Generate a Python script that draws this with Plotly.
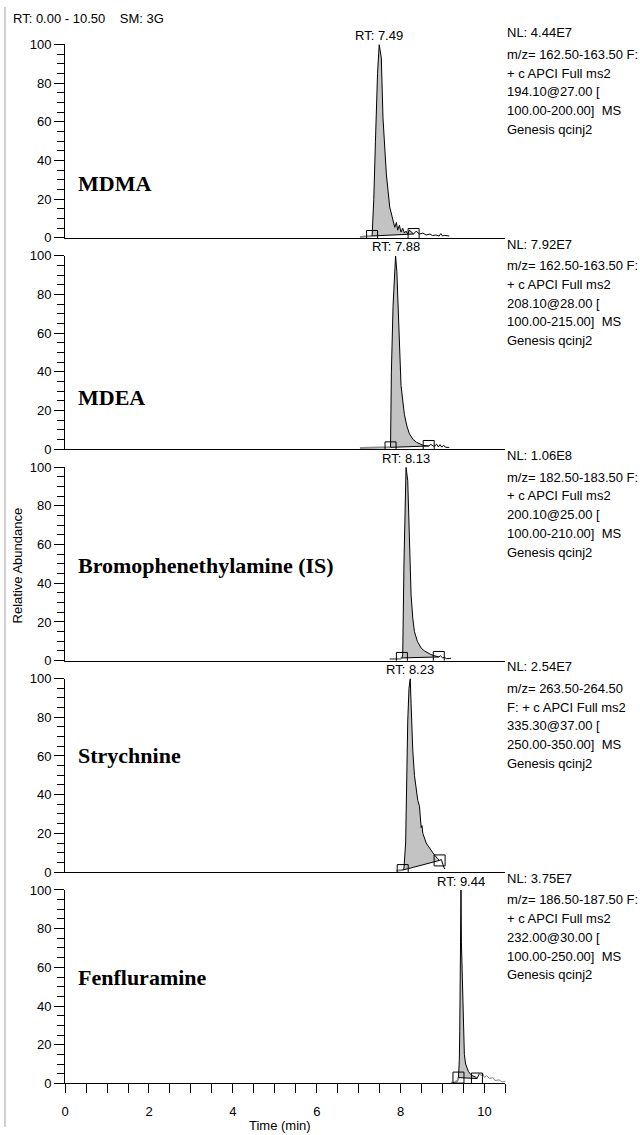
import plotly.graph_objects as go

# ---------------- data ----------------
compounds = ["MDMA", "MDEA", "Bromophenethylamine (IS)", "Strychnine", "Fenfluramine"]
label_levels = [28, 27, 49, 60, 55]
rt_values = [7.49, 7.88, 8.13, 8.23, 9.44]

mdma_t = [7.03, 7.10, 7.20, 7.28, 7.32, 7.36, 7.40, 7.45, 7.49, 7.54, 7.58, 7.66, 7.74, 7.82, 7.86, 7.90,
          7.93, 7.97, 8.01, 8.05, 8.09, 8.13, 8.17, 8.21, 8.25, 8.31, 8.37, 8.45, 8.53, 8.61, 8.70, 8.76,
          8.84, 8.92, 8.96, 9.00, 9.04, 9.10, 9.16]
mdma_y = [0.5, 0.6, 0.5, 0.7, 1.0, 20, 50, 85, 100, 93, 62, 33, 16, 9, 5.5, 8,
          4, 6.5, 3, 5, 2.5, 3.5, 2, 4, 3, 2, 3.5, 2, 2.5, 1.5, 2, 1.2,
          1.5, 1, 2.2, 1, 1.3, 1, 1]
mdma_bounds_t = [7.32, 8.31]
mdma_bounds_y = [1.0, 2.0]

mdea_t = [7.03, 7.20, 7.40, 7.60, 7.70, 7.76, 7.78, 7.82, 7.86, 7.88, 7.91, 7.96, 8.01, 8.09, 8.15, 8.21,
          8.30, 8.38, 8.46, 8.54, 8.62, 8.67, 8.72, 8.80, 8.86, 8.90, 8.94, 8.98, 9.02, 9.08, 9.16]
mdea_y = [0.6, 0.7, 0.6, 0.7, 0.8, 1.0, 40, 74, 98, 100, 92, 57, 33, 18, 12, 8,
          5, 3.6, 2.6, 2, 1.8, 1.7, 2.5, 1.5, 2.6, 1.2, 2.4, 1.1, 2, 1, 1]
mdea_bounds_t = [7.76, 8.67]
mdea_bounds_y = [1.0, 1.7]

br_t = [7.74, 7.85, 7.95, 8.00, 8.03, 8.05, 8.08, 8.11, 8.13, 8.17, 8.21, 8.25, 8.29, 8.33, 8.40, 8.49,
        8.57, 8.64, 8.72, 8.80, 8.88, 8.91, 8.95, 9.00, 9.05, 9.10, 9.20]
br_y = [0.8, 0.9, 0.8, 1.0, 1.4, 3, 50, 85, 100, 93, 59, 34, 22, 15, 10, 6.5,
        5, 4, 3.2, 2.6, 2.2, 1.9, 2.5, 1.5, 1.6, 1.0, 1.2]
br_bounds_t = [8.03, 8.91]
br_bounds_y = [1.4, 1.9]

st_t = [7.90, 7.98, 8.05, 8.08, 8.12, 8.14, 8.17, 8.20, 8.23, 8.25, 8.29, 8.33, 8.37, 8.41, 8.45, 8.49,
        8.51, 8.53, 8.61, 8.70, 8.80, 8.88, 8.93, 8.97, 9.00, 9.03, 9.06]
st_y = [0.6, 0.8, 1.0, 2, 15, 45, 78, 95, 100, 87, 63, 50, 44, 37, 34, 23,
        24, 20, 15, 12, 9, 7, 6, 6.5, 4, 2.5, 1.5]
st_bounds_t = [8.05, 8.93]
st_bounds_y = [1.0, 6.0]

fen_t = [9.20, 9.30, 9.36, 9.38, 9.40, 9.41, 9.42, 9.44, 9.45, 9.47, 9.49, 9.50, 9.52, 9.55, 9.58, 9.62,
         9.70, 9.78, 9.82, 9.88, 9.92, 9.96, 10.00, 10.05, 10.12, 10.20, 10.25, 10.35, 10.42, 10.50]
fen_y = [0.3, 0.5, 1.5, 3, 12, 27, 66, 100, 73, 52, 35, 27, 15, 10, 8, 6,
         4, 3.5, 2.5, 5, 4, 5, 3, 4, 2.5, 3, 1.5, 1.8, 0.8, 1]
fen_bounds_t = [9.38, 9.82]
fen_bounds_y = [3.0, 2.5]

info_lines = [
    ["NL: 4.44E7", "m/z= 162.50-163.50 F:", "+ c APCI Full ms2", "194.10@27.00 [", "100.00-200.00]  MS", "Genesis qcinj2"],
    ["NL: 7.92E7", "m/z= 162.50-163.50 F:", "+ c APCI Full ms2", "208.10@28.00 [", "100.00-215.00]  MS", "Genesis qcinj2"],
    ["NL: 1.06E8", "m/z= 182.50-183.50 F:", "+ c APCI Full ms2", "200.10@25.00 [", "100.00-210.00]  MS", "Genesis qcinj2"],
    ["NL: 2.54E7", "m/z= 263.50-264.50", "F: + c APCI Full ms2", "335.30@37.00 [", "250.00-350.00]  MS", "Genesis qcinj2"],
    ["NL: 3.75E7", "m/z= 186.50-187.50 F:", "+ c APCI Full ms2", "232.00@30.00 [", "100.00-250.00]  MS", "Genesis qcinj2"],
]

x_tick_vals = [0, 2, 4, 6, 8, 10]
y_tick_vals = [0, 20, 40, 60, 80, 100]

series = [
    (mdma_t, mdma_y, mdma_bounds_t, mdma_bounds_y),
    (mdea_t, mdea_y, mdea_bounds_t, mdea_bounds_y),
    (br_t, br_y, br_bounds_t, br_bounds_y),
    (st_t, st_y, st_bounds_t, st_bounds_y),
    (fen_t, fen_y, fen_bounds_t, fen_bounds_y),
]

# ---------------- layout geometry ----------------
W, H = 640, 1135
X0, X1 = 61.5, 504.6
TOP0, STEP, PH = 38.0, 214.2, 196.0
FONT = "Liberation Sans, Arial, sans-serif"
SERIF = "Liberation Serif, Times New Roman, serif"
FS = 13


def px(x):
    return x / W


def py(y):
    return 1 - y / H


fig = go.Figure()
layout = dict(
    width=W, height=H, margin=dict(l=0, r=0, t=0, b=0),
    paper_bgcolor="white", plot_bgcolor="white", showlegend=False,
    font=dict(family=FONT, size=FS, color="black"),
)

annotations = []
for i, (t, y, bt, by) in enumerate(series):
    n = i + 1
    xa = "x" if n == 1 else f"x{n}"
    ya = "y" if n == 1 else f"y{n}"
    top = TOP0 + STEP * i
    bot = top + PH

    pts = list(zip(t, y))
    # filled integrated area
    inside = [p for p in pts if bt[0] < p[0] < bt[1]]
    poly_x = [bt[0]] + [p[0] for p in inside] + [bt[1]]
    poly_y = [by[0]] + [p[1] for p in inside] + [by[1]]
    fig.add_trace(go.Scatter(x=poly_x, y=poly_y, xaxis=xa, yaxis=ya, mode="lines",
                             fill="toself", fillcolor="#c3c3c3", line=dict(width=0),
                             hoverinfo="skip"))
    # pre-peak segment (gray)
    pre = [p for p in pts if p[0] <= bt[0]]
    fig.add_trace(go.Scatter(x=[p[0] for p in pre], y=[p[1] for p in pre], xaxis=xa, yaxis=ya,
                             mode="lines", line=dict(color="#8c8c8c", width=2), hoverinfo="skip"))
    # main trace (starts at last pre point so the line is continuous)
    start_idx = max(len(pre) - 1, 0)
    main = [p for p in pts[start_idx:] if n < 5 or p[0] <= bt[1]]
    if n == 5:
        nxt = [p for p in pts if p[0] > bt[1]]
        if nxt:
            main.append(nxt[0])
    fig.add_trace(go.Scatter(x=[p[0] for p in main], y=[p[1] for p in main], xaxis=xa, yaxis=ya,
                             mode="lines", line=dict(color="black", width=1), hoverinfo="skip"))
    if n == 5:
        post = [p for p in pts if p[0] > bt[1]]
        fig.add_trace(go.Scatter(x=[p[0] for p in post], y=[p[1] for p in post], xaxis=xa, yaxis=ya,
                                 mode="lines", line=dict(color="#808080", width=1), hoverinfo="skip"))
    # integration baseline + boxes
    fig.add_trace(go.Scatter(x=bt, y=by, xaxis=xa, yaxis=ya, mode="lines+markers",
                             line=dict(color="black", width=1),
                             marker=dict(symbol="square-open", size=11, color="black",
                                         line=dict(width=1)),
                             hoverinfo="skip"))

    xaxis = dict(domain=[px(X0), px(X1)], range=[0, 10.5], anchor=ya,
                 showline=True, linecolor="black", linewidth=1, showgrid=False, zeroline=False,
                 fixedrange=True)
    if n < 5:
        xaxis.update(showticklabels=False, ticks="", matches="x5")
    else:
        xaxis.update(ticks="outside", ticklen=9, tickwidth=1, tickcolor="black",
                     tickvals=x_tick_vals, ticktext=[str(v) for v in x_tick_vals],
                     tickfont=dict(size=FS), ticklabelstandoff=7,
                     minor=dict(ticks="outside", ticklen=9, tickwidth=1, tickcolor="black",
                                dtick=0.5, tick0=0))
    yaxis = dict(domain=[py(bot), py(top)], range=[0, 100], anchor=xa,
                 showline=True, linecolor="black", linewidth=1, showgrid=False, zeroline=False,
                 ticks="outside", ticklen=10, tickwidth=1, tickcolor="black",
                 tickvals=y_tick_vals, ticktext=[str(v) for v in y_tick_vals],
                 tickfont=dict(size=FS), ticklabelstandoff=0,
                 minor=dict(ticks="outside", ticklen=7, tickwidth=1, tickcolor="black",
                            dtick=5, tick0=0),
                 fixedrange=True)
    layout["xaxis" if n == 1 else f"xaxis{n}"] = xaxis
    layout["yaxis" if n == 1 else f"yaxis{n}"] = yaxis

    # compound name
    annotations.append(dict(x=0.27, y=label_levels[i], xref=xa, yref=ya, xanchor="left",
                            yanchor="middle", text=f"<b>{compounds[i]}</b>", showarrow=False,
                            font=dict(family=SERIF, size=22, color="black")))
    # RT label
    annotations.append(dict(x=rt_values[i], y=py(top - 9), xref=xa, yref="paper",
                            xanchor="center", yanchor="middle", text=f"RT: {rt_values[i]:.2f}",
                            showarrow=False, font=dict(size=FS)))
    # info text block
    for k, line in enumerate(info_lines[i]):
        yy = top - 12 if k == 0 else top + 10 + 19 * (k - 1)
        annotations.append(dict(x=px(504), y=py(yy), xref="paper", yref="paper",
                                xanchor="left", yanchor="middle",
                                text=line.replace("  ", "&nbsp; "),
                                showarrow=False, font=dict(size=FS)))

annotations.append(dict(x=px(7), y=py(12), xref="paper", yref="paper", xanchor="left",
                        yanchor="middle", text="RT: 0.00 - 10.50&nbsp;&nbsp;&nbsp; SM: 3G",
                        showarrow=False, font=dict(size=FS)))
annotations.append(dict(x=px(14), y=py(566), xref="paper", yref="paper", xanchor="center",
                        yanchor="middle", text="Relative Abundance", textangle=-90,
                        showarrow=False, font=dict(size=13)))
annotations.append(dict(x=px((X0 + X1) / 2 - 5), y=py(1133), xref="paper", yref="paper",
                        xanchor="center", yanchor="middle", text="Time (min)", showarrow=False,
                        font=dict(size=FS)))
layout["annotations"] = annotations
layout["shapes"] = [dict(type="line", xref="paper", yref="paper", x0=px(1), x1=px(1), y0=0, y1=1,
                         line=dict(color="#a0a0a0", width=1))]

fig.update_layout(**layout)
fig.write_html(
    "out.html",
    config={"displayModeBar": False},
    post_script="document.body.style.margin='0';document.body.style.padding='0';"
                "document.documentElement.style.overflow='hidden';",
)
